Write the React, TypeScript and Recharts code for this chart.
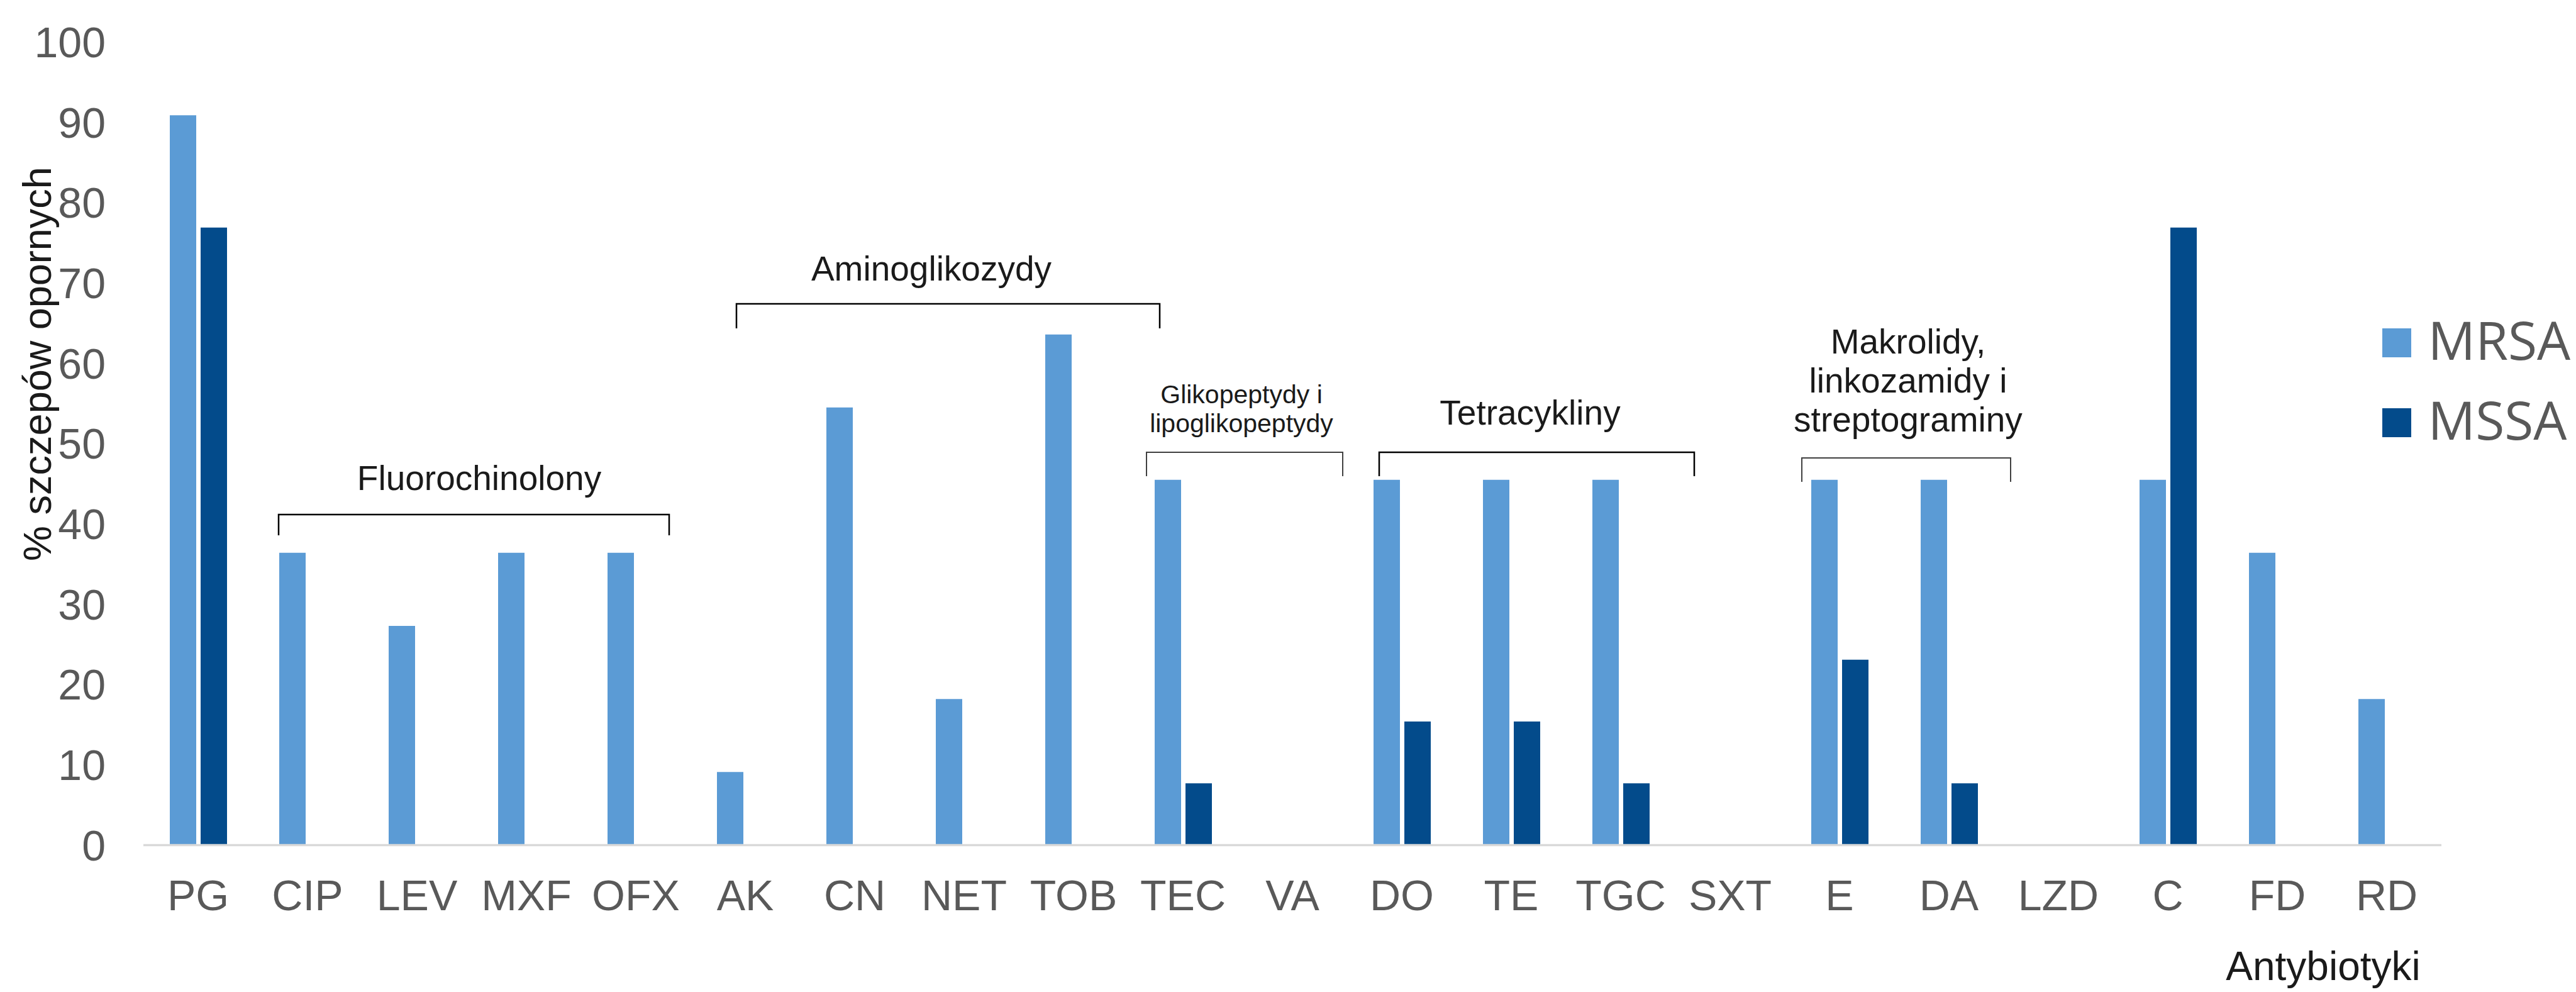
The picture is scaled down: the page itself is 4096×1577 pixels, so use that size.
import React from 'react'
import { BarChart, Bar, XAxis, YAxis, Legend } from 'recharts'

const categories = ['PG', 'CIP', 'LEV', 'MXF', 'OFX', 'AK', 'CN', 'NET', 'TOB', 'TEC', 'VA', 'DO', 'TE', 'TGC', 'SXT', 'E', 'DA', 'LZD', 'C', 'FD', 'RD']
const mrsa = [90.9, 36.4, 27.3, 36.4, 36.4, 9.1, 54.5, 18.2, 63.6, 45.5, 0, 45.5, 45.5, 45.5, 0, 45.5, 45.5, 0, 45.5, 36.4, 18.2]
const mssa = [76.9, 0, 0, 0, 0, 0, 0, 0, 0, 7.7, 0, 15.4, 15.4, 7.7, 0, 23.1, 7.7, 0, 76.9, 0, 0]
const yTicks = [0, 10, 20, 30, 40, 50, 60, 70, 80, 90, 100]

const groupLabels = [
  ['Fluorochinolony'],
  ['Aminoglikozydy'],
  ['Glikopeptydy i', 'lipoglikopeptydy'],
  ['Tetracykliny'],
  ['Makrolidy,', 'linkozamidy i', 'streptograminy'],
]

const chartData = categories.map((name, i) => ({ name, MRSA: mrsa[i], MSSA: mssa[i] }))

// bracket layout for the group annotations (page pixels)
const bracketLayout = [
  { x1: 443, x2: 1064, top: 818, bottom: 851, tx: 762, base: 779, size: 55, gap: 62, stroke: '#000', sw: 2.5 },
  { x1: 1171, x2: 1844, top: 483, bottom: 522, tx: 1481, base: 446, size: 55, gap: 62, stroke: '#000', sw: 2.5 },
  { x1: 1823, x2: 2135, top: 719, bottom: 757, tx: 1974, base: 641, size: 41, gap: 46, stroke: '#404040', sw: 2 },
  { x1: 2193, x2: 2694, top: 719, bottom: 757, tx: 2433, base: 675, size: 55, gap: 62, stroke: '#000', sw: 2.5 },
  { x1: 2865, x2: 3197, top: 728, bottom: 766, tx: 3034, base: 562, size: 55, gap: 62, stroke: '#404040', sw: 2 },
]

const FONT = '"Liberation Sans", Arial, sans-serif'

function renderLegend(props: any) {
  const { payload } = props
  return (
    <div style={{ display: 'flex', flexDirection: 'column' }}>
      {payload.map((entry: any) => (
        <div key={entry.value} style={{ display: 'flex', alignItems: 'center', height: 126.5 }}>
          <div style={{ width: 46, height: 46, background: entry.color, marginRight: 27 }} />
          <span
            style={{
              fontFamily: '"Open Sans", sans-serif',
              fontSize: 84,
              color: '#595959',
              lineHeight: 1,
              position: 'relative',
              top: -5,
            }}
          >
            {entry.value}
          </span>
        </div>
      ))}
    </div>
  )
}

export default function App() {
  return (
    <div style={{ position: 'relative', width: 4096, height: 1577, background: '#fff' }}>
      <style>{'body{margin:0}'}</style>
      <BarChart
        width={4096}
        height={1577}
        data={chartData}
        margin={{ top: 67, right: 214, bottom: 0, left: 0 }}
        barGap={7}
      >
        <XAxis
          dataKey="name"
          interval={0}
          height={233.5}
          tickLine={false}
          tickSize={0}
          tickMargin={55}
          axisLine={{ stroke: '#D9D9D9', strokeWidth: 3.5 }}
          tick={{ fontSize: 68, fill: '#595959', fontFamily: FONT }}
        />
        <YAxis
          domain={[0, 100]}
          ticks={yTicks}
          width={228}
          axisLine={false}
          tickLine={false}
          tickSize={0}
          tickMargin={60}
          tick={{ fontSize: 68, fill: '#595959', fontFamily: FONT }}
        />
        <Legend
          layout="vertical"
          align="center"
          verticalAlign="middle"
          wrapperStyle={{ left: 3787.6, top: 482, width: 320 }}
          content={renderLegend}
        />
        <Bar dataKey="MRSA" fill="#5B9BD5" barSize={42} isAnimationActive={false} />
        <Bar dataKey="MSSA" fill="#034B8B" barSize={42} isAnimationActive={false} />
      </BarChart>

      <svg
        width={4096}
        height={1577}
        style={{ position: 'absolute', left: 0, top: 0, pointerEvents: 'none' }}
      >
        {bracketLayout.map((b, i) => (
          <g key={i}>
            <path
              d={`M${b.x1},${b.bottom} L${b.x1},${b.top} L${b.x2},${b.top} L${b.x2},${b.bottom}`}
              fill="none"
              stroke={b.stroke}
              strokeWidth={b.sw}
            />
            {groupLabels[i].map((line, j) => (
              <text
                key={j}
                x={b.tx}
                y={b.base + j * b.gap}
                textAnchor="middle"
                fontFamily={FONT}
                fontSize={b.size}
                fill="#1A1A1A"
              >
                {line}
              </text>
            ))}
          </g>
        ))}
        <text
          x={81}
          y={578.5}
          transform="rotate(-90, 81, 578.5)"
          textAnchor="middle"
          fontFamily={FONT}
          fontSize={63}
          fill="#1A1A1A"
        >
          % szczepów opornych
        </text>
        <text x={3694} y={1558} textAnchor="middle" fontFamily={FONT} fontSize={64} fill="#1A1A1A">
          Antybiotyki
        </text>
      </svg>
    </div>
  )
}
